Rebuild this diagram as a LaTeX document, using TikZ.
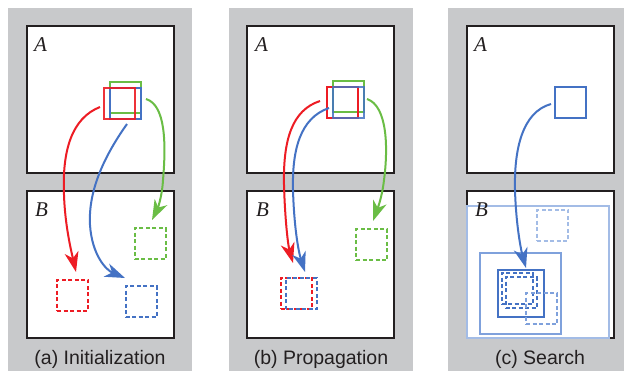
\documentclass[tikz,border=0pt]{standalone}
\usepackage{fontspec}
\setmainfont{Liberation Serif}
\newfontfamily\labelfont{Liberation Sans}
\usetikzlibrary{arrows.meta}
\definecolor{bggray}{HTML}{C8C9CB}
\definecolor{frame}{HTML}{231F20}
\definecolor{pred}{HTML}{ED1C24}
\definecolor{pgreen}{HTML}{6ABD45}
\definecolor{pblue}{HTML}{4472C4}
\definecolor{pmid}{HTML}{7FA1DC}
\definecolor{plight}{HTML}{A3BCE6}
\begin{document}
\begin{tikzpicture}[x=1bp,y=-1bp,
  panel/.style={fill=bggray,draw=none},
  imgbox/.style={draw=frame,line width=2.5bp,fill=white},
  patch/.style={draw,line width=2bp,inner sep=0pt,minimum size=31bp,fill=none},
  dpatch/.style={patch,dash pattern=on 4bp off 2.5bp},
  link/.style={line width=2bp,-{Stealth[length=20bp,width=14bp,inset=6bp]}},
  imglabel/.style={font=\fontsize{21bp}{21bp}\selectfont\itshape,anchor=base west,inner sep=0pt,text=frame},
  caption/.style={font=\labelfont\fontsize{19.5bp}{20bp}\selectfont,anchor=base,inner sep=0pt,text=frame}]

\useasboundingbox (0,0) rectangle (624,371);
\fill[white] (0,0) rectangle (624,371);

% ---------- panel backgrounds ----------
\fill[panel] (8,8) rectangle (192,371);
\fill[panel] (229,8) rectangle (413,371);
\fill[panel] (448,8) rectangle (624,371);

% ---------- image frames ----------
\draw[imgbox] (27,26) rectangle (174,173);
\draw[imgbox] (27,191) rectangle (174,338);
\draw[imgbox] (247,26) rectangle (394,173);
\draw[imgbox] (247,191) rectangle (394,338);
\draw[imgbox] (467,26) rectangle (614,173);
\draw[imgbox] (467,191) rectangle (614,338);

% ================= (a) Initialization =================
\node[imglabel] (aA) at (34,51) {A};
\node[imglabel] (aB) at (35,216) {B};
\node[patch,draw=pgreen] (agA) at (125.5,97.5) {};
\node[patch,draw=pblue] (abA) at (125.5,103) {};
\node[patch,draw=pred,draw opacity=0.9] (arA) at (119.5,103) {};
\node[dpatch,draw=pred] (arB) at (72.5,295) {};
\node[dpatch,draw=pblue] (abB) at (141,301.5) {};
\node[dpatch,draw=pgreen] (agB) at (150,243.5) {};

\coordinate (ar0) at (100,107);
\coordinate (ar1) at (76,272);
\coordinate (ab0) at (127,124);
\coordinate (ab1) at (125,278);
\coordinate (ag0) at (146,99);
\coordinate (ag1) at (152,220);
\draw[link,pred] (ar0) .. controls (72,118) and (62,150) .. (64,195) .. controls (65,225) and (71,250) .. (ar1);
\draw[link,pblue] (ab0) .. controls (105,155) and (88,190) .. (90,225) .. controls (92,255) and (106,270) .. (ab1);
\draw[link,pgreen] (ag0) .. controls (166,105) and (166,145) .. (163,180) .. controls (162,198) and (157,210) .. (ag1);

\node[caption] (ca) at (100,364) {(a) Initialization};

% ================= (b) Propagation =================
\node[imglabel] (bA) at (255,51) {A};
\node[imglabel] (bB) at (256,216) {B};
\node[patch,draw=pgreen] (bgA) at (348,96.5) {};
\node[patch,draw=pred] (brA) at (342,102.5) {};
\node[patch,draw=pblue,draw opacity=0.85] (bbA) at (348,102.5) {};
\node[dpatch,draw=pgreen] (bgB) at (371.5,244.5) {};
\node[dpatch,draw=pred] (brB) at (296,293) {};
\node[dpatch,draw=pblue,dash phase=3bp] (bbB) at (301,293.5) {};

\coordinate (br0) at (320,101);
\coordinate (br1) at (293,263);
\coordinate (bb0) at (329,108);
\coordinate (bb1) at (305,272);
\coordinate (bg0) at (367,99);
\coordinate (bg1) at (373,221);
\draw[link,pred] (br0) .. controls (292,110) and (283,140) .. (284,185) .. controls (285,220) and (288,245) .. (br1);
\draw[link,pblue] (bb0) .. controls (300,118) and (292,150) .. (293,190) .. controls (294,225) and (298,250) .. (bb1);
\draw[link,pgreen] (bg0) .. controls (388,106) and (388,150) .. (384,180) .. controls (382,198) and (377,210) .. (bg1);

\node[caption] (cb) at (321,364) {(b) Propagation};

% ================= (c) Search =================
\node[imglabel] (cA) at (474,51) {A};
\node[patch,draw=pblue] (cbA) at (570.5,102) {};

\draw[line width=2bp,draw=plight] (467,206) rectangle (609,338);
\node[imglabel] (cB) at (475,216) {B};
\node[dpatch,draw=plight] (cl1) at (552.5,225) {};
\draw[line width=2bp,draw=pmid] (480,253) rectangle (561,334);
\draw[line width=2.5bp,draw=pblue] (498,270) rectangle (544,317);
\node[dpatch,draw=pblue] (cd1) at (517,288.5) {};
\node[dpatch,draw=pblue] (cd2) at (521,292.5) {};
\node[dpatch,draw=pmid] (cd3) at (541.5,308.5) {};

\coordinate (cb0) at (551,104);
\coordinate (cb1) at (526,268);
\draw[link,pblue] (cb0) .. controls (522,112) and (514,150) .. (515,190) .. controls (516,225) and (521,250) .. (cb1);

\node[caption] (cc) at (540,364) {(c) Search};
\end{tikzpicture}
\end{document}
